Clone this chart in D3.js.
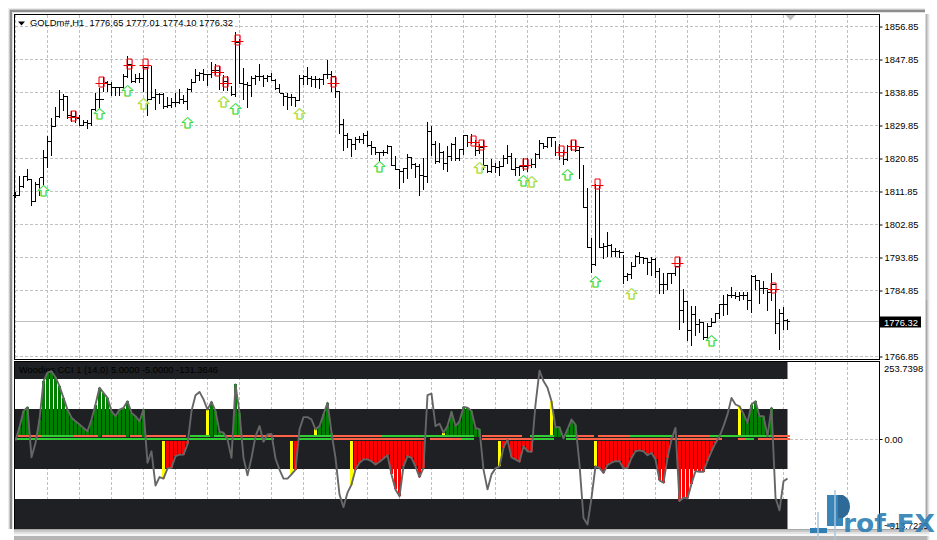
<!DOCTYPE html>
<html><head><meta charset="utf-8">
<script src="https://cdn.jsdelivr.net/npm/d3@7/dist/d3.min.js"></script>
<style>html,body{margin:0;padding:0;background:#fff}svg{display:block}text{font-family:"Liberation Sans",Arial,sans-serif}</style>
</head><body><div id="c"></div>
<script>
const title = "GOLDm#,H1  1776.65 1777.01 1774.10 1776.32";
const cciTitle = "Woodies CCI 1 (14,0) 5.0000 -5.0000 -131.3646";
const priceTicks = [1856.85,1847.85,1838.85,1829.85,1820.85,1811.85,1802.85,1793.85,1784.85,1766.85];
const highs = [1811.7,1816.0,1816.2,1818.0,1814.9,1814.4,1815.6,1823.3,1826.9,1831.9,1834.9,1839.4,1838.5,1838.0,1833.7,1833.7,1832.8,1831.3,1831.3,1834.4,
1838.7,1840.1,1843.1,1841.9,1841.7,1840.4,1840.4,1844.0,1848.7,1846.5,1844.0,1844.2,1846.0,1845.6,1846.0,1839.8,1838.7,1838.7,1837.6,1837.4,
1838.7,1839.7,1838.3,1840.1,1842.6,1845.3,1844.4,1845.3,1844.0,1847.1,1846.5,1846.0,1843.5,1843.3,1840.6,1855.4,1853.5,1845.5,1841.6,1843.3,
1843.7,1846.5,1843.5,1843.7,1844.2,1842.4,1841.3,1838.7,1838.7,1838.5,1837.4,1843.7,1843.7,1845.7,1843.3,1843.3,1842.8,1844.0,1847.7,1844.7,
1843.3,1839.2,1831.5,1827.7,1825.9,1826.8,1827.0,1827.9,1828.3,1825.6,1824.0,1822.6,1823.1,1824.4,1824.3,1821.5,1818.1,1818.3,1822.2,1821.3,
1819.5,1819.4,1820.9,1830.9,1829.7,1825.6,1825.0,1822.9,1824.3,1825.2,1826.6,1823.5,1827.2,1827.2,1827.4,1825.9,1824.7,1826.0,1819.2,1820.6,
1819.5,1820.1,1821.7,1824.4,1822.4,1821.0,1818.9,1821.0,1821.0,1820.6,1822.4,1825.9,1825.1,1826.6,1826.6,1825.6,1824.7,1823.3,1824.4,1825.9,
1825.9,1823.9,1819.1,1812.9,1799.2,1813.8,1813.3,1797.7,1800.9,1797.4,1796.5,1796.0,1794.5,1789.5,1792.7,1794.4,1795.4,1794.0,1793.8,1794.0,
1793.8,1791.0,1789.7,1789.7,1789.7,1791.5,1794.0,1785.3,1782.1,1780.6,1780.6,1777.0,1776.2,1775.9,1777.4,1778.8,1781.3,1783.5,1783.8,1785.9,
1784.4,1784.5,1784.5,1784.4,1789.2,1789.0,1787.6,1787.4,1785.1,1789.7,1785.1,1779.7,1780.4,1777.1];
const lows = [1810.1,1810.6,1812.8,1814.7,1807.8,1808.9,1810.6,1813.3,1818.3,1821.5,1829.5,1831.9,1833.9,1831.7,1830.7,1830.6,1829.7,1829.8,1828.9,1829.8,
1833.7,1834.4,1838.9,1838.9,1838.0,1838.0,1838.0,1839.8,1842.8,1841.5,1841.5,1841.5,1838.9,1832.4,1836.9,1834.2,1835.6,1834.4,1834.7,1834.7,
1834.9,1835.8,1835.6,1834.0,1838.9,1841.5,1841.9,1841.9,1840.7,1842.8,1843.7,1839.5,1839.2,1839.2,1837.8,1837.7,1841.2,1836.8,1834.7,1837.7,
1841.0,1841.9,1840.4,1841.7,1841.9,1839.5,1838.6,1835.1,1834.0,1835.3,1834.9,1836.5,1841.0,1841.0,1840.4,1840.1,1839.7,1840.8,1842.6,1839.0,
1837.4,1827.4,1822.9,1823.8,1821.3,1823.3,1825.0,1824.7,1824.0,1821.7,1821.7,1819.5,1821.5,1822.0,1818.8,1817.7,1812.6,1814.3,1815.3,1817.9,
1815.4,1810.6,1812.2,1814.3,1821.5,1819.3,1819.7,1817.7,1817.2,1820.2,1820.2,1820.2,1821.7,1824.1,1824.7,1821.5,1822.0,1817.7,1816.8,1817.0,
1816.8,1816.0,1818.8,1819.4,1817.7,1816.0,1816.2,1817.4,1817.1,1818.3,1818.3,1820.6,1823.5,1823.8,1824.0,1821.5,1820.4,1819.1,1820.1,1822.9,
1822.6,1815.3,1807.4,1796.5,1789.5,1791.5,1796.5,1793.5,1794.0,1794.0,1794.0,1793.8,1786.5,1787.4,1787.9,1791.3,1792.0,1792.0,1789.2,1788.8,
1788.3,1783.8,1783.8,1785.1,1786.5,1788.8,1774.0,1775.9,1771.0,1769.7,1772.4,1773.3,1771.3,1771.5,1775.0,1776.0,1777.0,1777.9,1778.3,1782.9,
1782.4,1782.0,1782.2,1779.5,1778.8,1785.1,1781.3,1783.8,1779.2,1781.9,1773.1,1768.6,1774.0,1774.2];
const closes = [1810.7,1813.1,1816.0,1815.1,1809.2,1813.7,1815.6,1821.0,1825.6,1829.7,1832.2,1836.9,1837.7,1832.6,1832.2,1831.7,1829.8,1830.7,1830.4,1834.2,
1836.9,1836.9,1841.5,1841.0,1840.1,1840.1,1840.1,1843.3,1846.5,1841.9,1842.8,1842.8,1845.6,1836.9,1837.4,1838.3,1838.3,1834.9,1835.3,1836.0,
1836.0,1836.9,1836.5,1839.8,1841.5,1843.5,1844.0,1843.7,1843.7,1844.9,1844.9,1844.2,1841.9,1841.3,1838.3,1852.5,1841.3,1841.0,1840.7,1842.8,
1843.1,1843.1,1842.8,1843.1,1842.2,1839.9,1838.7,1837.8,1837.4,1837.4,1836.8,1842.8,1843.1,1842.8,1842.4,1842.4,1842.4,1843.8,1843.8,1843.3,
1839.2,1830.0,1827.0,1825.9,1824.7,1825.9,1825.9,1827.0,1824.3,1823.8,1822.4,1822.4,1822.6,1824.1,1819.0,1817.9,1817.2,1818.0,1821.1,1819.3,
1818.8,1816.1,1815.9,1828.3,1824.7,1819.9,1822.4,1819.5,1821.5,1824.7,1820.8,1823.2,1827.0,1825.3,1825.2,1822.9,1823.8,1819.0,1817.2,1818.8,
1818.3,1818.6,1820.8,1821.5,1817.9,1818.3,1818.6,1818.8,1819.0,1819.2,1822.0,1825.0,1824.2,1826.5,1826.5,1822.4,1822.4,1820.6,1824.0,1824.0,
1822.9,1823.8,1807.4,1796.5,1792.0,1813.5,1796.5,1796.8,1797.1,1795.6,1795.6,1795.3,1788.8,1789.2,1791.3,1794.0,1793.8,1793.5,1792.4,1793.3,
1790.1,1786.5,1786.5,1789.5,1789.5,1791.3,1779.3,1781.8,1773.9,1778.3,1775.6,1776.0,1772.1,1775.0,1776.2,1778.5,1781.0,1781.0,1783.5,1783.5,
1783.3,1783.5,1783.5,1782.2,1788.6,1787.7,1785.3,1785.3,1784.4,1786.5,1775.8,1778.5,1776.8,1776.32];
const lastPrice = 1776.32;
const buyBars = [7,21,28,32,43,52,55,71,91,116,127,129,138,145,154,174];
const buyTips = [1813.5,1834.7,1840.8,1837.4,1832.2,1837.8,1836.0,1834.7,1820.1,1819.9,1816.3,1816.0,1818.0,1788.9,1785.6,1772.7];
const warmBuyBars = [32,52,71,116,129,154];
const sellBars = [14,21,28,32,50,52,55,79,114,116,127,136,139,145,165,189];
const sellLevels = [1832.1,1841.2,1846.3,1846.3,1844.2,1841.3,1852.7,1841.2,1825.3,1824.0,1819.0,1822.6,1824.0,1813.6,1792.2,1785.1];
const cci = [-5,39,93,106,-61,-13,65,193,221,226,206,176,137,98,71,59,48,37,26,65,
115,171,154,137,93,76,98,104,126,87,76,59,98,-79,-41,-155,-127,-132,-98,-96,
-57,-52,-52,-18,93,146,157,132,98,124,93,24,21,-2,-63,182,87,-63,-121,-63,
9,43,-9,15,17,-65,-102,-132,-132,-118,-102,32,73,73,65,32,43,82,121,21,
-63,-185,-227,-179,-152,-102,-79,-68,-68,-74,-85,-76,-65,-54,-118,-168,-191,-91,-57,-63,
-91,-127,-96,146,151,43,51,21,43,91,43,59,107,104,93,37,32,-102,-168,-118,
-98,-91,-29,-2,-61,-68,-76,-24,-41,-43,115,228,193,171,126,39,39,2,32,65,
48,-85,-263,-285,-196,-91,-96,-113,-87,-79,-74,-74,-98,-96,-63,-41,-38,-41,-54,-46,
-68,-138,-146,-63,-2,37,-207,-196,-198,-149,-107,-109,-109,-72,-41,-13,9,43,82,137,
115,109,84,54,115,126,76,76,9,104,-196,-238,-141,-131.36];
const greenRuns = [[1,3],[6,32],[49,52],[55,56],[76,79],[108,116],[135,140],[182,189]];
const redRuns = [[38,43],[70,70],[85,102],[122,129],[146,164],[166,176]];
const yellowBars = [37,48,69,75,84,107,121,134,145,181];
const topOrangeRuns = [[1,6],[15,20],[22,27],[29,31],[33,42],[53,60],[61,70],[80,91],[117,126],[140,144],[146,153],[166,173],[190,193]];
const topGreenRuns = [[7,14],[44,48],[50,52],[71,79],[92,114],[129,134],[138,140],[154,164],[174,189]];
const lowOrangeRuns = [[80,102],[104,111],[117,129],[141,176],[181,182],[186,193]];
const lowGreenRuns = [[0,64],[71,79],[112,114],[130,134],[138,140],[183,184]];
const bandLevels = [[200,300],[-100,100],[-300,-200]];
const cciTicks = [253.7398,0,-313.7225];

const W=937,H=540;
const svg=d3.select("#c").append("svg").attr("width",W).attr("height",H);
const x=d3.scaleLinear().domain([0,193]).range([15.5,787.5]);
const y=d3.scaleLinear().domain([1766.85,1856.85]).range([356.5,26.5]);
const yc=d3.scaleLinear().domain([-300,300]).range([529,349]);
const px=v=>Math.round(v-0.5)+0.5;
const L=15,R=879.5,mainB=359,subT=362,subB=529;

// window chrome
[[930,"#f4f4f4"],[929,"#e2e2e2"],[928,"#cfcfcf"],[927,"#b5b5b5"]].forEach(([r,c])=>svg.append("rect").attr("x",14).attr("y",14).attr("width",r-14).attr("height",r-927+529).attr("fill",c));
[[536,"#f6f6f6"],[534,"#e2e2e2"],[532,"#c8c8c8"],[530,"#a8a8a8"]].forEach(([b,c])=>svg.append("rect").attr("x",14).attr("y",300).attr("width",916-(536-b)/2).attr("height",b-300).attr("fill",c));
svg.append("rect").attr("x",10.5).attr("y",10.5).attr("width",915).attr("height",518.5).attr("fill","#fff");
svg.append("path").attr("d","M8.5,529V8.5H925").attr("fill","none").attr("stroke","#ececec");
svg.append("path").attr("d","M9.5,529V9.5H925").attr("fill","none").attr("stroke","#c8c8c8");
svg.append("path").attr("d","M11,529V11H925").attr("fill","none").attr("stroke","#8e8e8e").attr("stroke-width",2);
svg.append("path").attr("d","M12.5,529V12.5H925").attr("fill","none").attr("stroke","#e2e2e2").attr("stroke-width",1);

// grid
const gridBars=d3.range(8,193,8).concat([200,208]);
const grid=svg.append("g").attr("fill","none").attr("stroke","#c0c0c0").attr("stroke-dasharray","3,2").attr("stroke-width",1);
const xGrid=i=>px(x(i));
grid.selectAll(".v").data([0].concat(gridBars)).join("line").attr("x1",xGrid).attr("x2",xGrid).attr("y1",15).attr("y2",mainB);
grid.selectAll(".h").data(priceTicks).join("line").attr("x1",L).attr("x2",R).attr("y1",d=>px(y(d))).attr("y2",d=>px(y(d)));
grid.selectAll(".v2").data(gridBars).join("line").attr("x1",xGrid).attr("x2",xGrid).attr("y1",subT).attr("y2",subB);
grid.append("line").attr("x1",L).attr("x2",R).attr("y1",px(yc(0))).attr("y2",px(yc(0)));
svg.append("line").attr("x1",L).attr("x2",R).attr("y1",px(y(lastPrice))).attr("y2",px(y(lastPrice))).attr("stroke","#c0c0c0");

// shift marker
svg.append("path").attr("d","M785.5,15H795.5L790.5,20.5Z").attr("fill","#c0c0c0");

// OHLC bars
const bars=svg.append("g").attr("shape-rendering","crispEdges").attr("stroke","#000");
const idx=d3.range(highs.length);
bars.selectAll(".b").data(idx).join("line").attr("x1",i=>px(x(i))).attr("x2",i=>px(x(i))).attr("y1",i=>Math.round(y(highs[i]))).attr("y2",i=>Math.round(y(lows[i])));
bars.selectAll(".o").data(idx).join("line").attr("x1",i=>px(x(i))-2.5).attr("x2",i=>px(x(i))).attr("y1",i=>px(y(i?closes[i-1]:closes[0]))).attr("y2",i=>px(y(i?closes[i-1]:closes[0])));
bars.selectAll(".c").data(idx).join("line").attr("x1",i=>px(x(i))).attr("x2",i=>px(x(i))+2.5).attr("y1",i=>px(y(closes[i]))).attr("y2",i=>px(y(closes[i])));

// buy arrows
const arrow=(cx,ty)=>`M${cx},${ty}L${cx+5.5},${ty+5}H${cx+2.5}V${ty+10.5}H${cx-2.5}V${ty+5}H${cx-5.5}Z`;
const buyPos=i=>[px(x(buyBars[i])),Math.round(y(buyTips[i]))+0.5];
const buys=svg.append("g").attr("fill","none");
buys.append("g").selectAll("path").data(buyBars).join("path").attr("fill","#fff").attr("stroke","none").attr("d",(d,i)=>arrow(...buyPos(i)));
buys.append("g").selectAll("path").data(buyBars).join("path").attr("stroke","#66f0e8").attr("stroke-width",0.9).attr("d",(d,i)=>{const [a,b]=buyPos(i);return arrow(a+0.7,b);});
buys.append("g").selectAll("path").data(buyBars).join("path").attr("stroke","#ffe93a").attr("stroke-width",0.9).attr("d",(d,i)=>{const [a,b]=buyPos(i);return arrow(a-0.6,b+0.3);});
buys.append("g").selectAll("path").data(buyBars).join("path").attr("stroke",d=>warmBuyBars.includes(d)?"#b8d83a":"#2fd860").attr("stroke-width",0.9).attr("d",(d,i)=>arrow(...buyPos(i)));
// sell markers
const sells=svg.append("g").attr("fill","none");
sells.selectAll(".p").data(sellBars).join("path").attr("class","p").attr("stroke","#ffb0e0")
  .attr("d",(d,i)=>{const c=px(x(d))+2,t=px(y(sellLevels[i]));return `M${c+3},${t-6}V${t+2}`;});
sells.selectAll(".r").data(sellBars).join("path").attr("class","r").attr("stroke","#f00000")
  .attr("d",(d,i)=>{const c=px(x(d))+2,t=px(y(sellLevels[i]));return `M${c-2.5},${t-6.5}H${c+2.5}V${t+3.5}H${c-2.5}ZM${c-6},${t}H${c+6}`;});

// title
svg.append("path").attr("d","M18,21.5H25L21.5,25.5Z").attr("fill","#000");
svg.append("text").attr("x",30).attr("y",26).attr("font-size",9.8).attr("fill","#000").attr("textLength",203).attr("lengthAdjust","spacingAndGlyphs").attr("xml:space","preserve").style("white-space","pre").text(title);

// cci panel
const sub=svg.append("g");
sub.selectAll(".band").data(bandLevels).join("rect").attr("class","band").attr("x",L).attr("width",x(193)-L).attr("fill","#1e2023")
  .attr("y",d=>Math.max(subT,yc(d[1]))).attr("height",d=>Math.min(subB,yc(d[0]))-Math.max(subT,yc(d[1])));
sub.append("text").attr("x",19).attr("y",373).attr("font-size",9.8).attr("fill","#000").attr("textLength",199).attr("lengthAdjust","spacingAndGlyphs").text(cciTitle);
const histBar=(color,list)=>sub.append("g").selectAll("rect").data(list).join("rect").attr("fill",color).attr("shape-rendering","crispEdges")
  .attr("x",i=>px(x(i))-1.5).attr("width",3)
  .attr("y",i=>cci[i]>0?yc(cci[i]):yc(0)+1.5).attr("height",i=>Math.max(0,cci[i]>0?yc(0)-2-yc(cci[i]):yc(cci[i])-yc(0)-1.5));
const expand=r=>r.flatMap(([a,b])=>d3.range(a,b+1));
histBar("#008000",expand(greenRuns));
histBar("#ff0000",expand(redRuns));
histBar("#ffff00",yellowBars);
const dash=(runs,color,rowY)=>sub.append("g").selectAll("line").data(runs).join("line").attr("stroke",color).attr("stroke-width",2)
  .attr("x1",r=>x(r[0])-2).attr("x2",r=>x(r[1])+2).attr("y1",rowY).attr("y2",rowY).attr("shape-rendering","crispEdges");
const z0=yc(0);
dash(topOrangeRuns,"#ff6347",z0-3);dash(topGreenRuns,"#32cd32",z0-3);
dash(lowOrangeRuns,"#ff6347",z0);dash(lowGreenRuns,"#32cd32",z0);
sub.append("path").datum(cci).attr("fill","none").attr("stroke","#666").attr("stroke-width",1.9).attr("stroke-linejoin","round")
  .attr("d",d3.line().x((d,i)=>x(i)).y(d=>yc(d)));

// frames
const fr=svg.append("g").attr("fill","none").attr("stroke","#000").attr("shape-rendering","crispEdges");
fr.append("rect").attr("x",14.5).attr("y",14.5).attr("width",865).attr("height",mainB-14.5+0.5);
fr.append("path").attr("d",`M14.5,${subB}V361.5H879.5V${subB}`);

// axes
const axP=d3.axisRight(y).tickValues(priceTicks).tickFormat(d3.format(".2f")).tickSize(3).tickPadding(2);
const gp=svg.append("g").attr("transform",`translate(${R},0)`).call(axP);
const axC=d3.axisRight(yc).tickValues([0]).tickFormat(d3.format(".2f")).tickSize(3).tickPadding(2);
const gc=svg.append("g").attr("transform",`translate(${R},0)`).call(axC);
[gp,gc].forEach(g=>{g.select(".domain").remove();g.selectAll("text").attr("font-size",9.4).attr("font-family",'"Liberation Sans",Arial,sans-serif').attr("fill","#000");g.selectAll("line").attr("stroke","#000");});
svg.append("text").attr("x",884).attr("y",371.5).attr("font-size",9.4).attr("fill","#000").text(d3.format(".4f")(cciTicks[0]));
svg.append("text").attr("x",884).attr("y",529).attr("font-size",9.4).attr("fill","#000").text(d3.format(".4f")(cciTicks[2]));
// last price label
svg.append("rect").attr("x",880).attr("y",316.5).attr("width",41).attr("height",11).attr("fill","#000");
svg.append("text").attr("x",884).attr("y",325.5).attr("font-size",9.4).attr("fill","#fff").text(d3.format(".2f")(lastPrice));

// watermark
const wm=svg.append("g");
wm.append("rect").attr("x",810).attr("y",528).attr("width",17).attr("height",5).attr("fill","#2f7fb5");
wm.append("rect").attr("x",827).attr("y",495).attr("width",16).attr("height",31).attr("fill","#3a85b8");
wm.append("path").attr("d","M838,495H843A13,13 0 0 1 843,518H838Z").attr("fill","#2d6a98");
wm.append("line").attr("x1",818).attr("x2",818).attr("y1",512).attr("y2",540).attr("stroke","#a9c7dd").attr("stroke-width",1.5);
wm.append("line").attr("x1",835).attr("x2",835).attr("y1",490).attr("y2",540).attr("stroke","#a9c7dd").attr("stroke-width",1.5);
wm.append("text").attr("x",843).attr("y",532).attr("font-size",25).attr("font-weight",700).attr("fill","#2f7fb5").attr("fill-opacity",0.92)
  .attr("textLength",92).attr("lengthAdjust","spacingAndGlyphs").style("font-family","'DejaVu Sans',sans-serif").text("rof-FX");
</script></body></html>
